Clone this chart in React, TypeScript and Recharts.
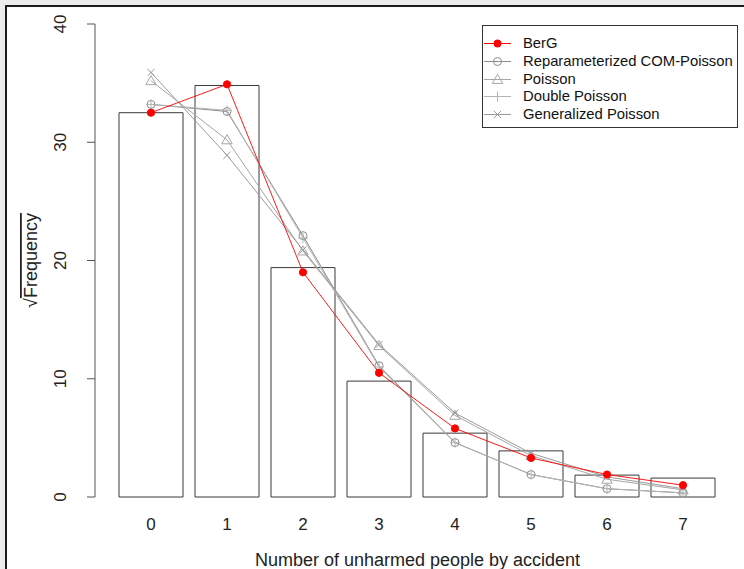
import React from 'react';
import { ComposedChart, Bar, Line, XAxis, YAxis, Legend, Label } from 'recharts';

const categories = ['0', '1', '2', '3', '4', '5', '6', '7'];
const observed = [32.5, 34.8, 19.4, 9.8, 5.4, 3.9, 1.85, 1.6];
const berg = [32.5, 34.9, 19.0, 10.5, 5.8, 3.3, 1.9, 1.0];
const comPoisson = [33.2, 32.6, 22.1, 11.1, 4.6, 1.9, 0.7, 0.35];
const poisson = [35.2, 30.2, 20.8, 12.8, 6.9, 3.5, 1.5, 0.6];
const doublePoisson = [33.2, 32.7, 21.9, 11.0, 4.6, 1.9, 0.7, 0.35];
const genPoisson = [35.9, 28.9, 20.9, 12.9, 7.1, 3.7, 1.7, 0.7];
const yTicks = [0, 10, 20, 30, 40];

const FONT = '"Liberation Sans", Arial, sans-serif';

type Shape = 'dot' | 'circle' | 'triangle' | 'plus' | 'cross';

const series: { key: string; name: string; values: number[]; color: string; shape: Shape }[] = [
  { key: 'com', name: 'Reparameterized COM-Poisson', values: comPoisson, color: '#8c8c8c', shape: 'circle' },
  { key: 'poi', name: 'Poisson', values: poisson, color: '#a6a6a6', shape: 'triangle' },
  { key: 'dp', name: 'Double Poisson', values: doublePoisson, color: '#b4b4b4', shape: 'plus' },
  { key: 'gp', name: 'Generalized Poisson', values: genPoisson, color: '#9a9a9a', shape: 'cross' },
  { key: 'berg', name: 'BerG', values: berg, color: '#ff0000', shape: 'dot' },
];
const legendOrder = ['berg', 'com', 'poi', 'dp', 'gp'];

const data = categories.map((c, i) => {
  const row: Record<string, number | string> = { cat: c, obs: observed[i] };
  series.forEach((s) => {
    row[s.key] = s.values[i];
  });
  return row;
});

function Marker({ shape, cx, cy, color }: { shape: Shape; cx: number; cy: number; color: string }) {
  if (shape === 'dot') return <circle cx={cx} cy={cy} r={3.6} fill={color} stroke={color} />;
  if (shape === 'circle') return <circle cx={cx} cy={cy} r={4} fill="none" stroke={color} strokeWidth={1} />;
  if (shape === 'triangle') {
    const s = 5.2;
    return (
      <polygon
        points={`${cx},${cy - s} ${cx - s},${cy + s * 0.75} ${cx + s},${cy + s * 0.75}`}
        fill="none"
        stroke={color}
        strokeWidth={1}
      />
    );
  }
  if (shape === 'plus') {
    const s = 5;
    return (
      <g stroke={color} strokeWidth={1}>
        <line x1={cx - s} y1={cy} x2={cx + s} y2={cy} />
        <line x1={cx} y1={cy - s} x2={cx} y2={cy + s} />
      </g>
    );
  }
  const s = 3.6;
  return (
    <g stroke={color} strokeWidth={1}>
      <line x1={cx - s} y1={cy - s} x2={cx + s} y2={cy + s} />
      <line x1={cx - s} y1={cy + s} x2={cx + s} y2={cy - s} />
    </g>
  );
}

const makeDot = (shape: Shape, color: string) => (props: any) => {
  const { cx, cy, index } = props;
  if (cx == null || cy == null) return <g key={`d-${index}`} />;
  return (
    <g key={`d-${shape}-${index}`}>
      <Marker shape={shape} cx={cx} cy={cy} color={color} />
    </g>
  );
};

const YTick = (props: any) => {
  const { y, payload } = props;
  const cx = 66;
  return (
    <text
      x={cx}
      y={y}
      transform={`rotate(-90, ${cx}, ${y})`}
      textAnchor="middle"
      fontSize={17}
      fontFamily={FONT}
      fill="#222"
    >
      {payload.value}
    </text>
  );
};

const YLabel = (props: any) => {
  const vb = props.viewBox || { y: 24, height: 473 };
  const cy = vb.y + vb.height / 2;
  const cx = 37;
  return (
    <text
      x={cx}
      y={cy}
      transform={`rotate(-90, ${cx}, ${cy})`}
      textAnchor="middle"
      fontSize={18}
      fontFamily={FONT}
      fill="#222"
    >
      <tspan>√</tspan>
      <tspan style={{ textDecoration: 'overline' }}>Frequency</tspan>
    </text>
  );
};

const LegendBox = () => (
  <div
    style={{
      border: '1px solid #333',
      background: 'white',
      width: 256,
      height: 103,
      boxSizing: 'border-box',
      paddingTop: 9,
      fontFamily: FONT,
      fontSize: 14.8,
      color: '#111',
    }}
  >
    {legendOrder.map((k) => {
      const s = series.find((x) => x.key === k)!;
      return (
        <div key={k} style={{ display: 'flex', alignItems: 'center', height: 17.7 }}>
          <svg width={40} height={17} style={{ flex: 'none' }}>
            <line x1={1} y1={8.5} x2={28} y2={8.5} stroke={s.color} strokeWidth={1} />
            <Marker shape={s.shape} cx={14.5} cy={8.5} color={s.color} />
          </svg>
          <span style={{ lineHeight: '17px', whiteSpace: 'nowrap' }}>{s.name}</span>
        </div>
      );
    })}
  </div>
);

export default function App() {
  return (
    <div style={{ position: 'absolute', left: 0, top: 0, width: 744, height: 569, background: '#ececec', overflow: 'hidden' }}>
      <div
        style={{
          position: 'absolute',
          left: 5,
          top: 5,
          width: 739,
          height: 564,
          borderLeft: '2px solid #1c1c1c',
          borderTop: '2px solid #1c1c1c',
          background: 'white',
        }}
      />
      <div style={{ position: 'absolute', left: 0, top: 0 }}>
        <ComposedChart width={744} height={569} data={data} margin={{ top: 24, right: 4, bottom: 0, left: 0 }}>
          <XAxis
            dataKey="cat"
            type="category"
            padding={{ left: 18, right: 19 }}
            axisLine={false}
            tickLine={false}
            tickSize={0}
            tickMargin={21}
            height={72}
            tick={{ fontSize: 17, fontFamily: FONT, fill: '#222' }}
          >
            <Label
              value="Number of unharmed people by accident"
              position="insideBottom"
              offset={3}
              style={{ fontSize: 18, fontFamily: FONT, fill: '#222' }}
            />
          </XAxis>
          <YAxis
            type="number"
            domain={[0, 40]}
            ticks={yTicks}
            width={95}
            axisLine={{ stroke: '#555' }}
            tickLine={{ stroke: '#555' }}
            tickSize={8}
            tick={<YTick />}
            interval={0}
          >
            <Label content={<YLabel />} />
          </YAxis>
          <Bar dataKey="obs" barSize={64} fill="#ffffff" stroke="#3a3a3a" strokeWidth={1} isAnimationActive={false} />
          {series.map((s) => (
            <Line
              key={s.key}
              type="linear"
              dataKey={s.key}
              name={s.name}
              stroke={s.color}
              strokeWidth={s.key === 'berg' ? 0.9 : 1}
              dot={makeDot(s.shape, s.color)}
              activeDot={false}
              isAnimationActive={false}
            />
          ))}
          <Legend
            layout="vertical"
            align="center"
            verticalAlign="middle"
            wrapperStyle={{ left: 482, top: 25, width: 256 }}
            content={() => <LegendBox />}
          />
        </ComposedChart>
      </div>
    </div>
  );
}
